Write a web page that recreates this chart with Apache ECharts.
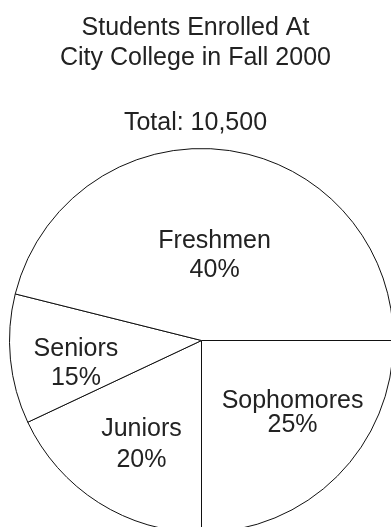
<!DOCTYPE html>
<html>
<head>
<meta charset="utf-8">
<style>
  html, body { margin: 0; padding: 0; background: #fff; }
  #chart { width: 391px; height: 527px; }
</style>
<script src="https://cdn.jsdelivr.net/npm/echarts@6/dist/echarts.min.js"></script>
</head>
<body>
<div id="chart"></div>
<script>
// ---- data ----
const titleLines = ['Students Enrolled At', 'City College in Fall 2000'];
const totalText = 'Total: 10,500';
const categories = ['Sophomores', 'Juniors', 'Seniors', 'Freshmen'];
const percentLabels = ['25%', '20%', '15%', '40%'];
// slice sizes as drawn in the picture (share of the circle, %)
const sliceShares = [25.0, 18.0, 10.9, 46.1];

// ---- styling / layout (not data) ----
const labelNudge = [[21, 3], [-7, 21], [-27, 13], [1, 13]];
const labelLineHeights = [24, 31, 29, 29];
const FONT = '"Liberation Sans", Arial, sans-serif';
const TEXT_COLOR = '#222';

const chart = echarts.init(document.getElementById('chart'), null, { renderer: 'canvas' });

const pieData = categories.map((name, i) => ({
  name: name,
  value: sliceShares[i],
  label: { lineHeight: labelLineHeights[i] }
}));

chart.setOption({
  animation: false,
  backgroundColor: '#fff',
  title: [
    {
      text: titleLines.join('\n'),
      left: 'center',
      top: 13,
      padding: 0,
      textStyle: {
        fontFamily: FONT, fontSize: 25, fontWeight: 'normal',
        color: TEXT_COLOR, lineHeight: 30
      }
    },
    {
      text: totalText,
      left: 'center',
      top: 108,
      padding: 0,
      textStyle: {
        fontFamily: FONT, fontSize: 25, fontWeight: 'normal',
        color: TEXT_COLOR, lineHeight: 30
      }
    }
  ],
  series: [{
    type: 'pie',
    center: [201.5, 340.5],
    radius: [0, 192],
    startAngle: 0,
    clockwise: true,
    avoidLabelOverlap: false,
    silent: true,
    itemStyle: { color: '#fff', borderColor: '#111', borderWidth: 1 },
    label: {
      show: true,
      position: 'inside',
      fontFamily: FONT,
      fontSize: 25,
      color: TEXT_COLOR,
      align: 'center',
      formatter: (p) => categories[p.dataIndex] + '\n' + percentLabels[p.dataIndex]
    },
    labelLine: { show: false },
    labelLayout: (p) => ({ dx: labelNudge[p.dataIndex][0], dy: labelNudge[p.dataIndex][1] }),
    emphasis: { disabled: true },
    data: pieData
  }]
});
</script>
</body>
</html>
